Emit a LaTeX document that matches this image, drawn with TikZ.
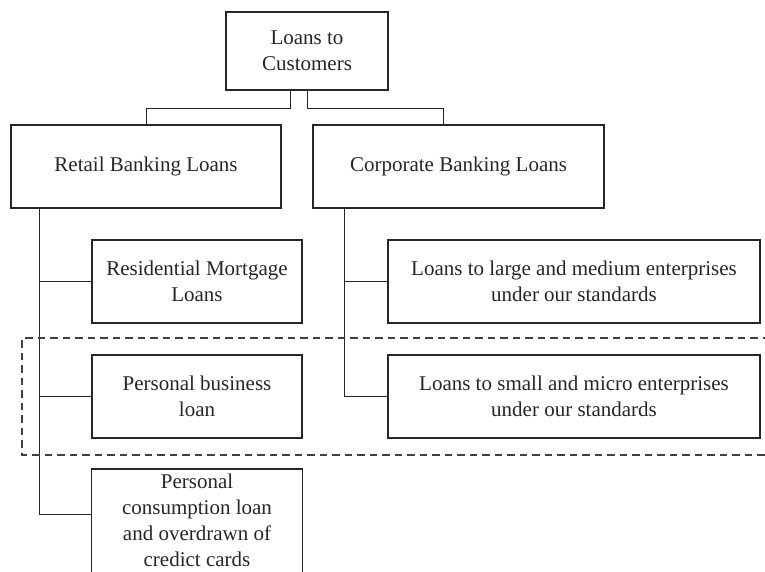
\documentclass[tikz,border=0pt]{standalone}
\usepackage{fontspec}
\setmainfont{Liberation Serif}
\begin{document}
\begin{tikzpicture}[x=1pt,y=-1pt,
  box/.style={draw=black!85, line width=1.2pt, inner sep=0pt, align=center,
    font=\fontsize{21}{26}\selectfont, text=black!85},
  frameline/.style={draw=black!85, line width=1.5pt},
  link/.style={draw=black!85, line width=1pt},
  group/.style={draw=black!75, line width=1.1pt, dash pattern=on 7.5pt off 5pt}]
\useasboundingbox (0,0) rectangle (765,571);

% tree nodes
\node[box, minimum width=162pt, minimum height=78pt] (top) at (307,51) {Loans to\\Customers};
\node[box, minimum width=270pt, minimum height=83pt] (retail) at (146,166.5) {Retail Banking Loans};
\node[box, minimum width=291pt, minimum height=83pt] (corp) at (458.5,166.5) {Corporate Banking Loans};
\node[box, minimum width=210pt, minimum height=83pt] (res) at (197,281.5) {Residential Mortgage\\Loans};
\node[box, minimum width=210pt, minimum height=83pt] (pbl) at (197,396.5) {Personal business\\loan};
% open-bottomed box that runs past the lower page edge
\node[box, draw=none, minimum width=210pt, minimum height=102pt] (cons) at (197,520.5) {Personal\\consumption loan\\and overdrawn of\\credict cards};
\draw[frameline] ([yshift=-20pt]cons.south west) |- (cons.north east) -- ([yshift=-20pt]cons.south east);
\node[box, minimum width=372pt, minimum height=83pt] (large) at (574,281.5) {Loans to large and medium enterprises\\under our standards};
\node[box, minimum width=372pt, minimum height=83pt] (small) at (574,396.5) {Loans to small and micro enterprises\\under our standards};

% connectors from the root
\draw[link] ([xshift=-17pt]top.south) -- ++(0,18) -| (retail.north);
\draw[link] (top.south) -- ++(0,18) -| ([xshift=-15.5pt]corp.north);

% retail branch
\coordinate (rs) at ([xshift=-107pt]retail.south);
\draw[link] (rs) |- ([yshift=6.5pt]cons.west);
\draw[link] (res.west) -- (res.west -| rs);
\draw[link] (pbl.west) -- (pbl.west -| rs);

% corporate branch
\coordinate (cs) at ([xshift=-114.5pt]corp.south);
\draw[link] (cs) |- (small.west);
\draw[link] (large.west) -- (large.west -| cs);

% dashed grouping frame
\draw[group] (770,338) -- (22,338) -- (22,455) -- (770,455);
\end{tikzpicture}
\end{document}
